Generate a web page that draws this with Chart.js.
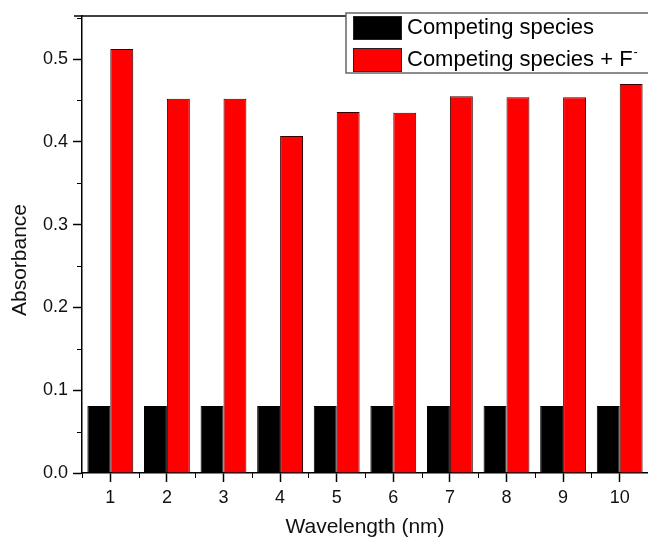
<!DOCTYPE html>
<html>
<head>
<meta charset="utf-8">
<script src="https://cdn.jsdelivr.net/npm/chart.js@4.4.1/dist/chart.umd.min.js"></script>
<style>
    html, body { margin: 0; padding: 0; background: #fff; }
    #wrap { width: 648px; height: 540px; }
</style>
</head>
<body>
<div id="wrap"><canvas id="Chart1" width="648" height="540"></canvas></div>
<script>
const wavelengths = ['1', '2', '3', '4', '5', '6', '7', '8', '9', '10'];
const competing = [0.081, 0.081, 0.081, 0.081, 0.081, 0.081, 0.081, 0.081, 0.081, 0.081];
const competingF = [0.512, 0.452, 0.452, 0.407, 0.436, 0.435, 0.455, 0.454, 0.454, 0.470];
const yTicks = [0.0, 0.1, 0.2, 0.3, 0.4, 0.5];
const seriesNames = ['Competing species', 'Competing species + F'];

const fontFamily = "'Liberation Sans', Arial, sans-serif";

// minor ticks, top frame line, y title and the boxed legend
const framePlugin = {
    id: 'frame',
    afterDraw(chart) {
        const ctx = chart.ctx;
        const area = chart.chartArea;
        const x = chart.scales.x;
        const y = chart.scales.y;
        ctx.save();
        ctx.strokeStyle = '#000';
        ctx.lineWidth = 1.5;
        ctx.beginPath();
        ctx.moveTo(area.left - 8, area.top);
        ctx.lineTo(area.right, area.top);
        ctx.stroke();

        // minor ticks on y
        ctx.lineWidth = 1;
        for (let v = 0.05; v < 0.55; v += 0.1) {
            const py = Math.round(y.getPixelForValue(v)) + 0.5;
            ctx.beginPath();
            ctx.moveTo(area.left - 5, py);
            ctx.lineTo(area.left, py);
            ctx.stroke();
        }
        // minor ticks on x at category boundaries
        const step = x.getPixelForValue(1) - x.getPixelForValue(0);
        for (let i = 0; i <= wavelengths.length; i++) {
            const px = Math.round(x.getPixelForValue(0) - step / 2 + i * step) + 0.5;
            ctx.beginPath();
            ctx.moveTo(px, area.bottom);
            ctx.lineTo(px, area.bottom + 5);
            ctx.stroke();
        }

        // y axis title
        ctx.fillStyle = '#111';
        ctx.font = '21px ' + fontFamily;
        ctx.textAlign = 'center';
        ctx.textBaseline = 'middle';
        ctx.translate(20, 260);
        ctx.rotate(-Math.PI / 2);
        ctx.fillText('Absorbance', 0, 0);
        ctx.setTransform(1, 0, 0, 1, 0, 0);

        // legend
        const lx = 346, ly = 13, lw = 310, lh = 60;
        ctx.fillStyle = '#fff';
        ctx.fillRect(lx, ly, lw, lh);
        ctx.strokeStyle = '#666';
        ctx.lineWidth = 1.5;
        ctx.strokeRect(lx, ly, lw, lh);
        ctx.textAlign = 'left';
        chart.data.datasets.forEach(function (ds, i) {
            const sy = 16 + i * 32;
            ctx.fillStyle = ds.backgroundColor;
            ctx.fillRect(353, sy, 48, 23);
            ctx.strokeStyle = '#222';
            ctx.lineWidth = 1;
            ctx.strokeRect(353.5, sy + 0.5, 48, 23);
            ctx.fillStyle = '#000';
            ctx.font = '22px ' + fontFamily;
            ctx.fillText(ds.label, 407, sy + 12);
            if (i === 1) {
                const w = ctx.measureText(ds.label).width;
                ctx.font = '13px ' + fontFamily;
                ctx.fillText('-', 407 + w + 1, sy + 4);
            }
        });
        ctx.restore();
    }
};

const ctx = document.getElementById('Chart1').getContext('2d');
const barChart = new Chart(ctx, {
    type: 'bar',
    data: {
        labels: wavelengths,
        datasets: [{
                label: seriesNames[0],
                data: competing,
                backgroundColor: '#000000',
                borderColor: '#000000',
                borderWidth: 1
            }, {
                label: seriesNames[1],
                data: competingF,
                backgroundColor: '#ff0000',
                borderColor: '#3a0000',
                borderWidth: 1
            }]
    },
    options: {
        responsive: false,
        animation: false,
        layout: {padding: {top: 16, right: 0, left: 0, bottom: 0}},
        plugins: {legend: {display: false}, tooltip: {enabled: false}},
        datasets: {bar: {categoryPercentage: 0.81, barPercentage: 1.0}},
        scales: {
            x: {
                offset: true,
                grid: {offset: false, drawOnChartArea: false, drawTicks: true, tickLength: 9, tickColor: '#000', tickWidth: 1.5},
                border: {display: true, color: '#000', width: 1.5},
                ticks: {color: '#111', font: {family: fontFamily, size: 18}, padding: 5, maxRotation: 0},
                title: {display: true, text: 'Wavelength (nm)', color: '#111', font: {family: fontFamily, size: 21}, padding: {top: 6, bottom: 0}},
                afterFit: function (scale) { scale.height = 67; }
            },
            y: {
                min: 0,
                max: 0.552,
                afterBuildTicks: function (scale) {
                    scale.ticks = yTicks.map(v => ({value: v}));
                },
                grid: {drawOnChartArea: false, drawTicks: true, tickLength: 9, tickColor: '#000', tickWidth: 1.5},
                border: {display: true, color: '#000', width: 1.5},
                ticks: {color: '#111', font: {family: fontFamily, size: 18}, padding: 5,
                    callback: function (v) { return Number(v).toFixed(1); }},
                title: {display: false},
                afterFit: function (scale) { scale.width = 82; }
            }
        }
    },
    plugins: [framePlugin]
});
</script>
</body>
</html>
